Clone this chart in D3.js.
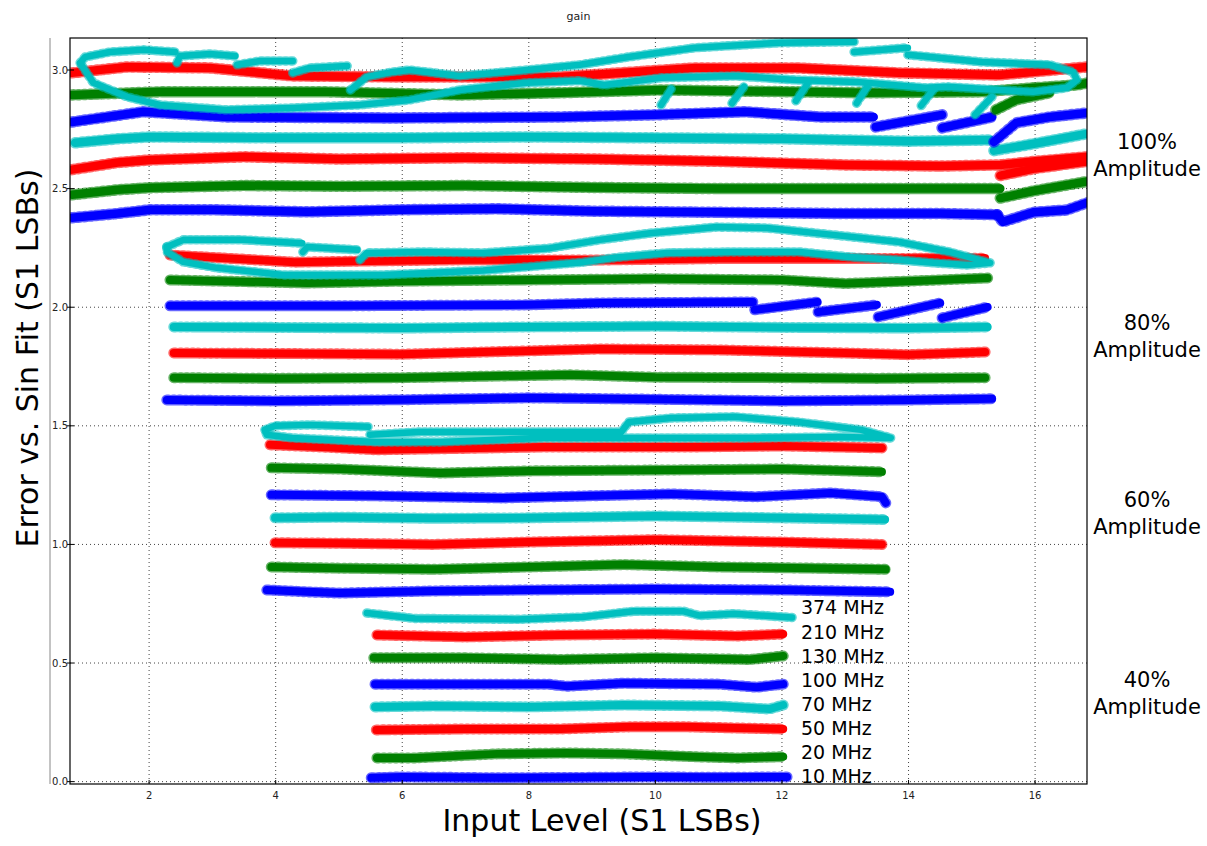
<!DOCTYPE html>
<html>
<head>
<meta charset="utf-8">
<script src="https://cdn.jsdelivr.net/npm/d3@7"></script>
<style>
  html, body { margin: 0; padding: 0; background: #fff; }
  svg { display: block; font-family: "DejaVu Sans", sans-serif; }
</style>
</head>
<body>
<svg id="chart" width="1207" height="846"></svg>
<script>
// ---------------- DATA ----------------
const freqLabels = ["10 MHz", "20 MHz", "50 MHz", "70 MHz", "100 MHz", "130 MHz", "210 MHz", "374 MHz"];
const freqLabelY = [0.024, 0.125, 0.226, 0.328, 0.429, 0.530, 0.631, 0.737];
const ampLabels = ["100%", "80%", "60%", "40%"];
const ampLabelY = [2.665, 1.906, 1.156, 0.401];
const xTicks = [2, 4, 6, 8, 10, 12, 14, 16];
const yTicks = [0.0, 0.5, 1.0, 1.5, 2.0, 2.5, 3.0];

// each trace = list of segments, each segment = list of [input level, error]
const amp100 = [
  [[[0.78,2.377],[1.5,2.395],[2.02,2.411],[3.0,2.411],[4.5,2.402],[6.0,2.411],[7.5,2.415],[9.0,2.405],[11.0,2.400],[13.0,2.395],[14.5,2.395],[15.4,2.390]],
   [[15.4,2.39],[15.49,2.36],[15.97,2.40],[16.5,2.41],[16.82,2.44]]],
  [[[0.78,2.474],[1.5,2.495],[2.02,2.504],[3.5,2.513],[5.0,2.510],[7.0,2.513],[9.0,2.505],[11.0,2.500],[13.0,2.500],[15.45,2.500]],
   [[15.45,2.46],[15.97,2.49],[16.82,2.53]]],
  [[[0.78,2.580],[1.5,2.610],[2.02,2.621],[3.5,2.634],[5.0,2.625],[7.0,2.630],[9.0,2.625],[11.0,2.615],[13.0,2.600],[14.5,2.595],[15.45,2.600],[16.0,2.615],[16.82,2.634]],
   [[15.45,2.555],[16.0,2.585],[16.82,2.615]]],
  [[[0.83,2.693],[1.5,2.710],[2.02,2.718],[4.0,2.714],[6.0,2.714],[8.0,2.718],[10.0,2.714],[12.0,2.710],[14.0,2.700],[15.3,2.705]],
   [[15.35,2.66],[16.0,2.690],[16.79,2.730]]],
  [[[0.78,2.781],[1.91,2.824],[3.23,2.802],[5.85,2.798],[8.49,2.802],[9.99,2.811],[11.43,2.824],[12.60,2.802],[13.45,2.802]],
   [[13.48,2.760],[14.53,2.811]],
   [[14.53,2.756],[15.32,2.802]],
   [[15.35,2.697],[15.70,2.777],[16.23,2.802],[16.82,2.819]]],
  [[[0.78,2.895],[2.17,2.908],[4.81,2.908],[6.91,2.895],[8.49,2.904],[10.09,2.916],[13.30,2.904],[15.16,2.908],[15.97,2.925],[16.66,2.937],[16.82,2.945]],
   [[15.38,2.832],[15.70,2.874],[16.23,2.904]]],
  [[[0.78,2.988],[1.65,3.013],[2.96,3.009],[4.27,2.975],[5.85,2.971],[7.43,2.971],[8.49,2.971],[10.63,3.009],[12.22,3.009],[13.83,2.988],[15.43,2.979],[16.82,3.013]]],
  [[[0.91,3.030],[0.99,3.055],[1.38,3.076],[1.91,3.085],[2.41,3.076]],
   [[2.44,3.030],[2.49,3.059],[2.96,3.068],[3.36,3.059]],
   [[3.39,3.022],[3.75,3.038],[4.27,3.038]],
   [[4.27,2.988],[4.54,3.009],[5.13,3.017]],
   [[5.18,2.916],[5.44,2.971],[5.85,2.992],[6.12,3.000],[6.91,2.975],[7.97,3.000],[8.81,3.022],[9.57,3.055],[10.63,3.094],[11.97,3.115],[13.14,3.119]],
   [[13.14,3.076],[13.99,3.094]],
   [[13.99,3.064],[15.16,3.034],[16.23,3.022],[16.60,2.992],[16.66,2.958],[16.50,2.925],[15.97,2.908],[15.43,2.916],[14.62,2.929],[14.26,2.925],[13.18,2.950],[12.22,2.958],[11.27,2.975],[10.09,2.967],[9.19,2.937],[8.81,2.955],[7.97,2.946],[6.91,2.916],[6.12,2.874],[5.33,2.853],[4.27,2.840],[3.23,2.832],[2.17,2.853],[1.65,2.887],[1.12,2.946],[0.91,3.030]],
   [[10.09,2.853],[10.25,2.920]],
   [[11.21,2.860],[11.40,2.930]],
   [[12.22,2.870],[12.40,2.940]],
   [[13.18,2.860],[13.35,2.930]],
   [[14.20,2.850],[14.40,2.920]],
   [[15.05,2.811],[15.32,2.887]]]
];

const amp80 = [
  [[[2.28,1.609],[4.0,1.605],[6.0,1.610],[8.0,1.618],[10.0,1.612],[12.0,1.605],[14.0,1.609],[15.32,1.614]]],
  [[[2.39,1.703],[4.0,1.700],[6.0,1.703],[8.65,1.715],[10.0,1.705],[12.0,1.703],[13.5,1.700],[15.21,1.703]]],
  [[[2.39,1.807],[4.0,1.805],[6.0,1.802],[9.12,1.824],[11.0,1.820],[13.0,1.807],[14.0,1.800],[15.21,1.811]]],
  [[[2.39,1.917],[4.0,1.915],[6.0,1.912],[8.0,1.917],[10.0,1.920],[12.0,1.915],[14.0,1.912],[15.25,1.917]]],
  [[[2.33,2.006],[5.0,2.006],[8.0,2.010],[9.12,2.018],[11.54,2.022]],
   [[11.57,1.989],[12.56,2.022]],
   [[12.57,1.980],[13.50,2.010]],
   [[13.52,1.959],[14.50,2.018]],
   [[14.53,1.955],[15.25,2.001]]],
  [[[2.33,2.115],[4.5,2.102],[6.0,2.110],[8.0,2.115],[10.0,2.120],[12.0,2.115],[13.0,2.100],[14.0,2.110],[15.25,2.123]]],
  [[[2.33,2.220],[3.0,2.210],[4.3,2.190],[5.5,2.195],[7.0,2.200],[9.12,2.199],[11.0,2.205],[13.0,2.205],[15.21,2.207]]],
  [[[2.28,2.254],[2.54,2.284],[3.48,2.284],[4.42,2.270]],
   [[4.43,2.233],[4.50,2.254],[5.29,2.242]],
   [[5.33,2.199],[5.44,2.229],[6.33,2.233],[7.28,2.229],[8.33,2.249],[9.12,2.284],[9.91,2.312],[10.97,2.338],[11.76,2.334],[12.81,2.305],[13.86,2.275],[14.65,2.233],[15.29,2.187],[14.92,2.178],[14.39,2.187],[13.86,2.199],[13.07,2.212],[12.28,2.233],[11.23,2.233],[10.18,2.229],[9.39,2.210],[8.86,2.190],[7.28,2.155],[5.70,2.136],[4.12,2.136],[3.07,2.166],[2.54,2.191],[2.28,2.233],[2.28,2.254]]]
];

const amp60 = [
  [[[3.86,0.808],[4.5,0.800],[5.0,0.795],[6.5,0.804],[8.0,0.808],[10.0,0.812],[12.0,0.808],[13.71,0.800]]],
  [[[3.93,0.905],[5.0,0.900],[6.5,0.895],[8.0,0.905],[9.5,0.915],[11.0,0.905],[12.5,0.900],[13.64,0.895]]],
  [[[3.99,1.007],[5.0,1.005],[6.5,1.000],[8.0,1.010],[10.0,1.020],[12.0,1.010],[13.58,1.000]]],
  [[[3.99,1.112],[5.0,1.115],[6.5,1.110],[8.0,1.112],[10.0,1.120],[12.0,1.112],[13.63,1.105]]],
  [[[3.93,1.209],[5.5,1.205],[7.59,1.196],[9.0,1.205],[10.25,1.213],[11.59,1.201],[12.77,1.217],[13.58,1.201],[13.64,1.175]]],
  [[[3.93,1.323],[5.0,1.318],[6.60,1.301],[8.0,1.310],[10.25,1.314],[12.0,1.318],[13.58,1.306]]],
  [[[3.91,1.420],[4.8,1.410],[5.59,1.399],[7.0,1.405],[8.25,1.411],[10.58,1.411],[12.0,1.415],[13.58,1.407]]],
  [[[3.83,1.483],[3.99,1.500],[4.53,1.504],[5.46,1.496]],
   [[5.49,1.462],[6.26,1.474],[9.46,1.474],[9.58,1.516],[10.25,1.533],[11.26,1.538],[12.25,1.516],[13.25,1.483],[13.72,1.449],[12.92,1.453],[11.59,1.449],[10.39,1.449],[8.25,1.449],[6.60,1.432],[5.59,1.432],[4.26,1.449],[3.86,1.462],[3.83,1.483]]]
];

const amp40 = [
  [[[5.51,0.016],[6.0,0.020],[7.54,0.016],[9.0,0.018],[9.91,0.020],[11.0,0.018],[12.08,0.020]]],
  [[[5.60,0.100],[6.2,0.100],[7.5,0.117],[8.6,0.121],[9.5,0.117],[10.6,0.105],[11.3,0.100],[12.02,0.105]]],
  [[[5.59,0.218],[7.0,0.222],[8.5,0.222],[9.6,0.231],[10.5,0.231],[11.3,0.226],[12.02,0.222]]],
  [[[5.57,0.315],[6.5,0.319],[8.0,0.315],[9.5,0.323],[11.0,0.319],[11.8,0.306],[12.02,0.323]]],
  [[[5.57,0.411],[7.0,0.411],[8.3,0.411],[8.6,0.402],[9.5,0.415],[11.0,0.411],[11.6,0.398],[12.02,0.411]]],
  [[[5.55,0.522],[7.0,0.522],[8.5,0.515],[10.0,0.522],[11.5,0.515],[12.02,0.530]]],
  [[[5.60,0.618],[7.0,0.610],[8.5,0.618],[10.0,0.622],[11.3,0.614],[12.02,0.622]]],
  [[[5.44,0.711],[6.2,0.688],[7.8,0.684],[8.85,0.694],[9.65,0.718],[10.45,0.718],[10.7,0.700],[11.25,0.708],[12.16,0.692]]]
];

const groups = [amp100, amp80, amp60, amp40];

// ---------------- STYLE / LAYOUT ----------------
const freqColors = ["#0000ff", "#008000", "#ff0000", "#00bfbf", "#0000ff", "#008000", "#ff0000", "#00bfbf"];
const m = { left: 70, right: 1087, top: 38, bottom: 784 };

const svg = d3.select("#chart");
const x = d3.scaleLinear().domain([0.75, 16.82]).range([m.left, m.right]);
const y = d3.scaleLinear().domain([-0.01, 3.135]).range([m.bottom, m.top]);

// grid
const grid = svg.append("g");
grid.selectAll("line.vx").data(xTicks).join("line")
  .attr("x1", d => x(d)).attr("x2", d => x(d))
  .attr("y1", m.top).attr("y2", m.bottom)
  .attr("stroke", "#444").attr("stroke-width", 1).attr("stroke-dasharray", "1,3");
grid.selectAll("line.hy").data(yTicks).join("line")
  .attr("x1", m.left).attr("x2", m.right)
  .attr("y1", d => y(d)).attr("y2", d => y(d))
  .attr("stroke", "#444").attr("stroke-width", 1).attr("stroke-dasharray", "1,3");

// traces
const line = d3.line().x(d => x(d[0])).y(d => y(d[1])).curve(d3.curveLinear);
svg.append("clipPath").attr("id", "plotclip").append("rect")
  .attr("x", m.left).attr("y", m.top).attr("width", m.right - m.left).attr("height", m.bottom - m.top);
const plot = svg.append("g").attr("clip-path", "url(#plotclip)");

groups.forEach((grp, gi) => {
  grp.forEach((trace, fi) => {
    const col = freqColors[fi];
    const w = fi === 7 ? 6.5 : (gi === 0 ? 8.5 : 8);
    const tg = plot.append("g");
    tg.selectAll("path.fuzz").data(trace).join("path")
      .attr("d", line).attr("fill", "none")
      .attr("stroke", col).attr("stroke-width", w + 3)
      .attr("stroke-dasharray", "2,4").attr("stroke-opacity", 0.6)
      .attr("stroke-linecap", "round").attr("stroke-linejoin", "round");
    tg.selectAll("path.core").data(trace).join("path")
      .attr("d", line).attr("fill", "none")
      .attr("stroke", col).attr("stroke-width", w)
      .attr("stroke-linecap", "round").attr("stroke-linejoin", "round");
  });
});

// frame
svg.append("rect").attr("x", m.left).attr("y", m.top)
  .attr("width", m.right - m.left).attr("height", m.bottom - m.top)
  .attr("fill", "none").attr("stroke", "#000").attr("stroke-width", 1.2);
// secondary gray spine
svg.append("line").attr("x1", 50).attr("x2", 50).attr("y1", m.top).attr("y2", m.bottom)
  .attr("stroke", "#888").attr("stroke-width", 1);

// y ticks
const yAx = svg.append("g");
yAx.selectAll("line").data(yTicks).join("line")
  .attr("x1", m.left - 3).attr("x2", m.left + 4)
  .attr("y1", d => y(d)).attr("y2", d => y(d))
  .attr("stroke", "#000").attr("stroke-width", 1);
yAx.selectAll("text").data(yTicks).join("text")
  .attr("x", m.left - 2).attr("y", d => y(d))
  .attr("text-anchor", "end").attr("dominant-baseline", "central")
  .attr("font-size", 10).attr("fill", "#222")
  .text(d => d3.format(".1f")(d));

// x ticks
const xAx = svg.append("g");
xAx.selectAll("line").data(xTicks).join("line")
  .attr("x1", d => x(d)).attr("x2", d => x(d))
  .attr("y1", m.bottom - 4).attr("y2", m.bottom)
  .attr("stroke", "#000").attr("stroke-width", 1);
xAx.selectAll("text").data(xTicks).join("text")
  .attr("x", d => x(d)).attr("y", m.bottom + 15)
  .attr("text-anchor", "middle")
  .attr("font-size", 10).attr("fill", "#222")
  .text(d => d);

// title
svg.append("text").attr("x", (m.left + m.right) / 2).attr("y", 20)
  .attr("text-anchor", "middle").attr("font-size", 11).attr("fill", "#222").text("gain");

// axis labels
svg.append("text").attr("x", 602).attr("y", 831)
  .attr("text-anchor", "middle").attr("font-size", 30).attr("fill", "#000")
  .text("Input Level (S1 LSBs)");
svg.append("text").attr("transform", "translate(38,358) rotate(-90)")
  .attr("text-anchor", "middle").attr("font-size", 30).attr("fill", "#000")
  .text("Error vs. Sin Fit (S1 LSBs)");

// frequency labels
svg.append("g").selectAll("text").data(freqLabels).join("text")
  .attr("x", x(12.3)).attr("y", (d, i) => y(freqLabelY[i]))
  .attr("dominant-baseline", "central")
  .attr("font-size", 19).attr("fill", "#000")
  .text(d => d);

// amplitude labels
const ampG = svg.append("g");
ampLabels.forEach((lab, i) => {
  const t = ampG.append("text").attr("x", 1147).attr("y", y(ampLabelY[i]))
    .attr("text-anchor", "middle").attr("font-size", 21).attr("fill", "#000");
  t.append("tspan").attr("x", 1147).attr("dy", 0).text(lab);
  t.append("tspan").attr("x", 1147).attr("dy", 27).text("Amplitude");
});
</script>
</body>
</html>
